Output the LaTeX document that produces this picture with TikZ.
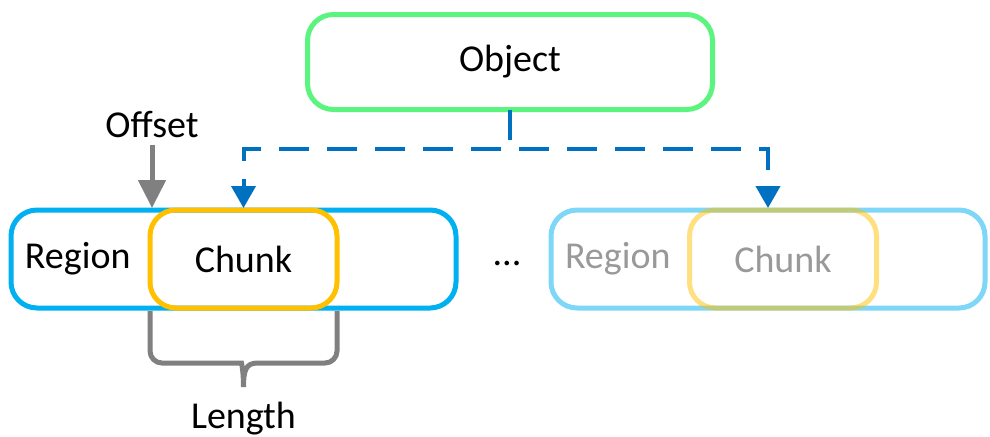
\documentclass[tikz,border=0pt]{standalone}
\usepackage{fontspec}
\setmainfont{Carlito}
\usepackage{tikz}
\usetikzlibrary{arrows.meta, positioning}

\definecolor{ObjGreen}{RGB}{90,244,126}
\definecolor{RegBlue}{RGB}{0,176,240}
\definecolor{ChkOrange}{RGB}{255,192,0}
\definecolor{LinkBlue}{RGB}{0,112,192}
\definecolor{OffGray}{RGB}{128,128,128}

\begin{document}
\begin{tikzpicture}[
  x=0.5pt, y=-0.5pt,
  box/.style={draw, fill=none, line width=2.5pt, rounded corners=13pt, outer sep=0pt,
    minimum height=49pt, inner sep=0pt, font=\fontsize{19}{23}\selectfont},
  objbox/.style={box, draw=ObjGreen, minimum width=202.5pt, minimum height=47.5pt},
  regbox/.style={box, draw=RegBlue, minimum width=222.5pt, text width=208.5pt,
    inner xsep=7pt, align=left},
  chkbox/.style={box, draw=ChkOrange, minimum width=93.5pt, align=center},
  faded/.style={draw opacity=0.5, text=black!40},
  lbl/.style={font=\fontsize{19}{23}\selectfont},
  linkarr/.style={-{Triangle[width=12pt,length=11pt]}, LinkBlue, line width=2pt,
    dash pattern=on 15pt off 9pt},
  offarr/.style={-{Triangle[width=13.5pt,length=14pt]}, OffGray, line width=2.5pt},
  lenbrace/.style={OffGray, line width=2.5pt},
]
\useasboundingbox (0,0) rectangle (990,436);

\node[objbox] (object) at (510,62) {Object};

% first region with its chunk
\node[regbox] (region1) at (233.5,259) {Region};
\node[chkbox] (chunk1) at (243.5,259) {Chunk};

% further regions
\node[lbl] (dots) at (507,263) {...};
\node[regbox, faded, minimum width=217pt, text width=203pt] (region2) at (768,259) {Region};
\node[chkbox, faded] (chunk2) at (783,259) {Chunk};

\draw[linkarr] (object.south) -- ++(0,39) -| ([yshift=1pt]chunk1.north);
\draw[linkarr] (object.south) -- ++(0,39) -| ([yshift=1pt]region2.north);

% offset and length
\node[lbl] (offset) at (152,125) {Offset};
\draw[offarr] (offset.south) -- ([yshift=1pt]offset.south |- region1.north);

\coordinate (lentip) at ([yshift=-39.5pt]chunk1.south);
\draw[lenbrace] ([yshift=-1.5pt]chunk1.south west) [rounded corners=6pt] |- ([xshift=-7pt,yshift=12pt]lentip)
  [sharp corners] .. controls ([xshift=-1pt,yshift=12pt]lentip) and ([yshift=8pt]lentip) .. (lentip)
  .. controls ([yshift=8pt]lentip) and ([xshift=1pt,yshift=12pt]lentip) .. ([xshift=7pt,yshift=12pt]lentip)
  [rounded corners=6pt] -| ([yshift=-1.5pt]chunk1.south east);
\node[lbl, below=4pt of lentip] (length) {Length};

\end{tikzpicture}
\end{document}
